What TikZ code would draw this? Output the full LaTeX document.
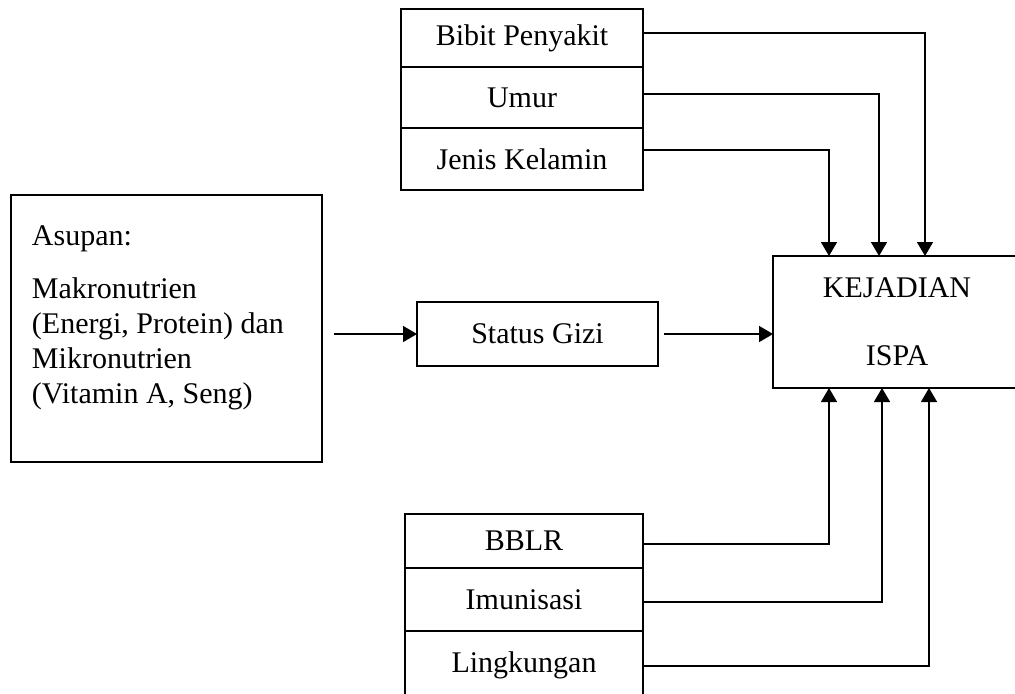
\documentclass[tikz,border=0pt]{standalone}
\usepackage{fontspec}
\setmainfont{Liberation Serif}
\usetikzlibrary{arrows.meta,positioning,calc}
\tikzset{main base/.style={draw,thick,text centered,outer sep=0pt}, }
\tikzset{main node/.style={rectangle,main base}, }
\tikzset{stack node/.style={main node,minimum width=121pt}, }
\tikzset{linea/.style={-{Triangle[length=7pt,width=8pt]},thick,draw}}

\begin{document}
\begin{tikzpicture}[x=0.5pt,y=-0.5pt,node distance=0pt,font=\fontsize{15}{17.5}\selectfont]
  \useasboundingbox (0,0) rectangle (1015,693);
  \clip (0,0) rectangle (1015,693);
  % faktor atas
  \node[stack node,minimum height=29pt] (bibit) at (522,38) {Bibit Penyakit};
  \node[stack node,minimum height=30.5pt] (umur) [below=of bibit] {Umur};
  \node[stack node,minimum height=31pt] (jenis) [below=of umur] {Jenis Kelamin};
  % faktor bawah
  \node[stack node,minimum width=119pt,minimum height=27pt] (bblr) at (524,541) {BBLR};
  \node[stack node,minimum width=119pt,minimum height=31.5pt] (imun) [below=of bblr] {Imunisasi};
  \node[stack node,minimum width=119pt,minimum height=34.5pt] (ling) [below=of imun] {Lingkungan};
  %
  \node[main node,inner xsep=10.5pt,inner ysep=10pt] (asupan) at (166.5,328.5)
    {\parbox[c][113.5pt][t]{134.5pt}{\vspace*{5.5pt}Asupan:\\[9pt]Makronutrien\\(Energi, Protein) dan\\Mikronutrien\\(Vitamin A, Seng)}};
  \node[main node,minimum width=120.5pt,minimum height=32pt] (gizi) at (537.5,334) {Status Gizi};
  \node[main node,minimum width=124pt,minimum height=66pt,align=center] (ispa) at (897,322) {KEJADIAN\\[16.5pt]ISPA};
%
\draw[linea] ($(asupan.east |- gizi.west)+(12,0)$) -- (gizi.west);
\draw[linea] ($(gizi.east)+(6,0)$) -- (ispa.west |- gizi.east);
\foreach \x/\dy/\dx in {bibit/2.5/76,umur/1.75/53,jenis/4.5/28}
  \path[linea] ([yshift=\dy pt]\x.east) -| ([xshift=\dx pt]ispa.north west);
\foreach \x/\dy/\dx in {bblr/-1.5/28,imun/-1.25/54.5,ling/-0.25/78}
  \path[linea] ([yshift=\dy pt]\x.east) -| ([xshift=\dx pt]ispa.south west);
%
\end{tikzpicture}
\end{document}
